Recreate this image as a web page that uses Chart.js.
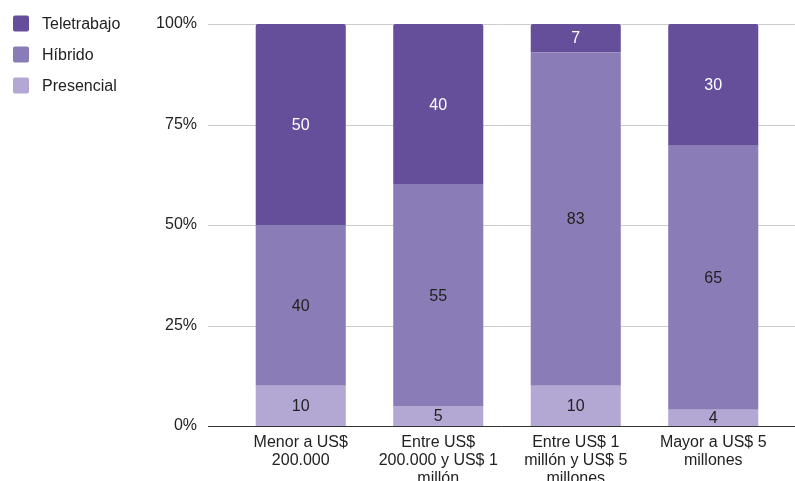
<!DOCTYPE html>
<html>
<head>
<meta charset="utf-8">
<script src="https://cdn.jsdelivr.net/npm/chart.js@4.4.1/dist/chart.umd.min.js"></script>
<style>
  html, body { margin: 0; padding: 0; background: #fff; }
  #wrap { width: 795px; height: 481px; position: relative; }
</style>
</head>
<body>
<div id="wrap"><canvas id="chart"></canvas></div>
<script>
// Datos
const categories = [
    ['Menor a US$', '200.000'],
    ['Entre US$', '200.000 y US$ 1', 'millón'],
    ['Entre US$ 1', 'millón y US$ 5', 'millones'],
    ['Mayor a US$ 5', 'millones']
];
const teletrabajo = [50, 40, 7, 30];
const hibrido = [40, 55, 83, 65];
const presencial = [10, 5, 10, 4];
const yTicks = [0, 25, 50, 75, 100];

const colors = {
    teletrabajo: '#654f9b',
    hibrido: '#8a7cb6',
    presencial: '#b3a7d4'
};

// Pasar a porcentaje del total de cada categoría
const totals = categories.map((c, i) => teletrabajo[i] + hibrido[i] + presencial[i]);
const toPct = arr => arr.map((v, i) => v / totals[i] * 100);

const FONT = 'Arial, "Liberation Sans", sans-serif';
const FSIZE = 16;

// Líneas de cuadrícula que van más allá del área del gráfico
const gridPlugin = {
    id: 'gridExt',
    beforeDatasetsDraw(chart) {
        const ctx = chart.ctx;
        const y = chart.scales.y;
        ctx.save();
        ctx.strokeStyle = '#cccccc';
        ctx.lineWidth = 1;
        yTicks.forEach(t => {
            if (t === 0) return;
            const py = Math.round(y.getPixelForValue(t)) + 0.5;
            ctx.beginPath();
            ctx.moveTo(208, py);
            ctx.lineTo(chart.width, py);
            ctx.stroke();
        });
        ctx.restore();
    },
    afterDatasetsDraw(chart) {
        const ctx = chart.ctx;
        const py = Math.round(chart.scales.y.getPixelForValue(0)) + 0.5;
        ctx.save();
        ctx.strokeStyle = '#333333';
        ctx.beginPath();
        ctx.moveTo(208, py);
        ctx.lineTo(chart.width, py);
        ctx.stroke();
        ctx.restore();
    }
};

// Etiquetas con el valor dentro de cada segmento
const valuesPlugin = {
    id: 'values',
    afterDatasetsDraw(chart) {
        const ctx = chart.ctx;
        ctx.save();
        ctx.font = FSIZE + 'px ' + FONT;
        ctx.textAlign = 'center';
        ctx.textBaseline = 'middle';
        chart.data.datasets.forEach((ds, di) => {
            const meta = chart.getDatasetMeta(di);
            meta.data.forEach((bar, i) => {
                ctx.fillStyle = ds.labelColor;
                ctx.fillText(String(ds.raw[i]), bar.x, (bar.y + bar.base) / 2 + 1);
            });
        });
        ctx.restore();
    }
};

// Leyenda a la izquierda
const legendPlugin = {
    id: 'sideLegend',
    afterDraw(chart) {
        const ctx = chart.ctx;
        const items = chart.data.datasets.slice().reverse();
        ctx.save();
        ctx.font = FSIZE + 'px ' + FONT;
        ctx.textBaseline = 'middle';
        items.forEach((ds, i) => {
            const cy = 23.5 + i * 31;
            ctx.fillStyle = ds.backgroundColor;
            ctx.beginPath();
            ctx.roundRect(13, cy - 8, 16, 16, 2);
            ctx.fill();
            ctx.fillStyle = '#222222';
            ctx.fillText(ds.label, 42, cy + 1);
        });
        ctx.restore();
    }
};

new Chart(document.getElementById('chart'), {
    type: 'bar',
    data: {
        labels: categories,
        datasets: [{
            label: 'Presencial',
            data: toPct(presencial),
            raw: presencial,
            labelColor: '#222222',
            backgroundColor: colors.presencial
        }, {
            label: 'Híbrido',
            data: toPct(hibrido),
            raw: hibrido,
            labelColor: '#222222',
            backgroundColor: colors.hibrido
        }, {
            label: 'Teletrabajo',
            data: toPct(teletrabajo),
            raw: teletrabajo,
            labelColor: '#ffffff',
            backgroundColor: colors.teletrabajo,
            borderRadius: { topLeft: 2, topRight: 2, bottomLeft: 0, bottomRight: 0 },
            borderSkipped: 'bottom'
        }]
    },
    options: {
        responsive: true,
        maintainAspectRatio: false,
        animation: false,
        events: [],
        layout: {
            padding: { left: 150, top: 24, right: 13, bottom: 0 }
        },
        datasets: {
            bar: {
                categoryPercentage: 1,
                barPercentage: 0.655
            }
        },
        scales: {
            x: {
                stacked: true,
                grid: { display: false, drawTicks: false },
                border: { display: false },
                ticks: {
                    color: '#222222',
                    font: { family: FONT, size: FSIZE, lineHeight: 1.125 },
                    padding: 8,
                    maxRotation: 0,
                    autoSkip: false
                },
                afterFit(scale) {
                    scale.height = 55;
                    scale.paddingLeft = 0;
                    scale.paddingRight = 0;
                }
            },
            y: {
                stacked: true,
                min: 0,
                max: 100,
                grid: { display: false, drawTicks: false },
                border: { display: false },
                afterBuildTicks(scale) {
                    scale.ticks = yTicks.map(v => ({ value: v }));
                },
                ticks: {
                    color: '#222222',
                    font: { family: FONT, size: FSIZE },
                    padding: 35,
                    callback: v => v + '%'
                },
                afterFit(scale) {
                    scale.width = 82;
                    scale.paddingTop = 0;
                    scale.paddingBottom = 0;
                }
            }
        },
        plugins: {
            legend: { display: false },
            tooltip: { enabled: false }
        }
    },
    plugins: [gridPlugin, valuesPlugin, legendPlugin]
});
</script>
</body>
</html>
